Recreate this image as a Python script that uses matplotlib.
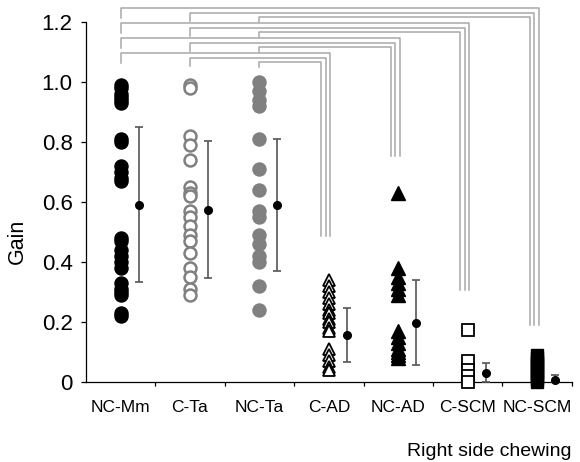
import matplotlib
matplotlib.use("Agg")
import matplotlib.pyplot as plt
import numpy as np

plt.rcParams['font.family'] = ['Liberation Sans', 'DejaVu Sans']

# categories and data
groups = ['NC-Mm', 'C-Ta', 'NC-Ta', 'C-AD', 'NC-AD', 'C-SCM', 'NC-SCM']

nc_mm = [0.99, 0.98, 0.96, 0.95, 0.94, 0.93, 0.81, 0.80, 0.72, 0.70, 0.68, 0.67,
         0.48, 0.47, 0.44, 0.42, 0.40, 0.38, 0.33, 0.31, 0.30, 0.29, 0.23, 0.22]
c_ta = [0.99, 0.98, 0.82, 0.79, 0.74, 0.65, 0.63, 0.62, 0.57, 0.55, 0.52, 0.49,
        0.47, 0.43, 0.38, 0.35, 0.31, 0.29]
nc_ta = [1.0, 0.97, 0.94, 0.92, 0.81, 0.71, 0.64, 0.57, 0.55, 0.49, 0.46, 0.42,
         0.40, 0.32, 0.24]
c_ad = [0.34, 0.32, 0.30, 0.28, 0.26, 0.24, 0.23, 0.21, 0.20, 0.18, 0.17, 0.11,
        0.09, 0.07, 0.05, 0.04]
nc_ad = [0.63, 0.38, 0.35, 0.33, 0.31, 0.29, 0.17, 0.15, 0.13, 0.11, 0.10, 0.09, 0.08]
c_scm = [0.175, 0.07, 0.04, 0.02, 0.0]
nc_scm = [0.09, 0.08, 0.07, 0.06, 0.05, 0.04, 0.03, 0.02, 0.01, 0.0]

means = [0.59, 0.575, 0.59, 0.157, 0.198, 0.03, 0.007]
sd_hi = [0.85, 0.805, 0.81, 0.247, 0.34, 0.063, 0.023]
sd_lo = [0.335, 0.347, 0.37, 0.067, 0.057, 0.0, 0.0]

# bracket ends above each right-hand group
bracket_base = [0.487, 0.753, 0.307, 0.19]

yticks = [0, 0.2, 0.4, 0.6, 0.8, 1.0, 1.2]
ytick_labels = ['0', '0.2', '0.4', '0.6', '0.8', '1.0', '1.2']

fig = plt.figure(figsize=(5.8, 4.62), dpi=100)
ax = fig.add_axes([0.148, 0.173, 0.838, 0.779])

series = [nc_mm, c_ta, nc_ta, c_ad, nc_ad, c_scm, nc_scm]
styles = [
    dict(marker='o', ms=9.4, mfc='black', mec='black', mew=1),
    dict(marker='o', ms=8.6, mfc='white', mec='#808080', mew=1.8),
    dict(marker='o', ms=9.4, mfc='#808080', mec='#808080', mew=1),
    dict(marker='^', ms=9.0, mfc='white', mec='black', mew=1.3),
    dict(marker='^', ms=9.4, mfc='black', mec='black', mew=1),
    dict(marker='s', ms=8.2, mfc='white', mec='black', mew=1.3),
    dict(marker='s', ms=8.8, mfc='black', mec='black', mew=1),
]

for i, (vals, st) in enumerate(zip(series, styles)):
    x = np.full(len(vals), i + 1.0)
    ax.plot(x, vals, ls='none', clip_on=False, zorder=3, **st)

# mean +/- SD
xm = np.arange(1, 8) + 0.26
m = np.array(means)
ax.errorbar(xm, m, yerr=[m - np.array(sd_lo), np.array(sd_hi) - m], fmt='o',
            color='black', ms=5.5, ecolor='#555555', elinewidth=1.2, capsize=3,
            capthick=1.2, clip_on=False, zorder=4)

# significance brackets
right_off = [0.02, -0.045, -0.11]
left_drop = [0.033, 0.027, 0.017]
for i in range(3):
    for k, j in enumerate([6, 5, 4, 3]):
        top = 1.247 - 0.05 * k - 0.015 * i
        xl = i + 1
        xr = j + 1 + right_off[i]
        ax.plot([xl, xl, xr, xr], [top - left_drop[i], top, top, bracket_base[j - 3]],
                color='#a8a8a8', lw=1.1, clip_on=False, zorder=1)

ax.set_xlim(0.5, 7.5)
ax.set_ylim(0, 1.2)
ax.spines['top'].set_visible(False)
ax.spines['right'].set_visible(False)
ax.spines['left'].set_linewidth(0.9)
ax.spines['bottom'].set_linewidth(0.9)

ax.set_yticks(yticks)
ax.set_yticklabels(ytick_labels, fontsize=16)
ax.tick_params(axis='y', direction='out', length=3.5, width=0.9, pad=6)

ax.set_xticks(np.arange(1, 8))
ax.set_xticklabels(groups, fontsize=12.5)
ax.set_xticks(np.arange(1.5, 8.0, 1.0), minor=True)
ax.tick_params(axis='x', which='major', length=0, pad=13)
ax.tick_params(axis='x', which='minor', direction='out', length=3, width=0.9)

ax.set_ylabel('Gain', fontsize=15.5)
ax.yaxis.set_label_coords(-0.12, 0.39)

fig.text(0.986, 0.012, 'Right side chewing', ha='right', va='baseline', fontsize=14)

fig.savefig('out.png', dpi=100)
